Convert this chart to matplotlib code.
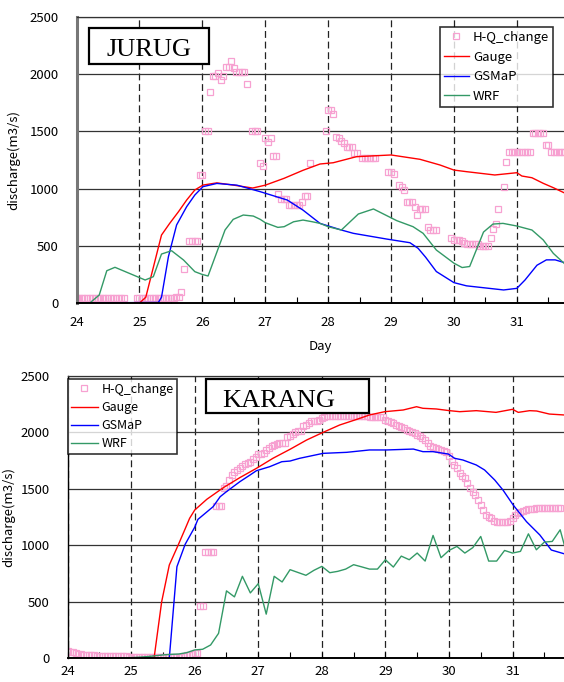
import numpy as np
import matplotlib
matplotlib.use('Agg')
import matplotlib.pyplot as plt
from matplotlib.lines import Line2D
from matplotlib.patches import Rectangle

# ---------------- JURUG (top) ----------------
# Gauge, GSMaP, WRF : (day, discharge)
jurug_gauge_day = [24.0, 25.0, 25.1, 25.35, 25.48, 25.62, 25.75, 25.88, 26.01, 26.23, 26.5, 26.8,
                   27.0, 27.3, 27.6, 27.87, 28.08, 28.45, 29.0, 29.46, 29.78, 30.0, 30.2, 30.65,
                   31.0, 31.08, 31.24, 31.42, 31.58, 31.75]
jurug_gauge_q = [0, 0, 50, 594, 696, 798, 900, 988, 1031, 1050, 1030, 1005,
                 1030, 1090, 1160, 1215, 1226, 1279, 1294, 1256, 1206, 1162, 1148, 1119,
                 1139, 1110, 1095, 1046, 1008, 964]

jurug_gsmap_day = [24.0, 25.3, 25.35, 25.46, 25.59, 25.75, 25.88, 26.01, 26.23, 26.55, 26.92, 27.35,
                   27.6, 27.87, 28.21, 28.4, 28.93, 29.3, 29.43, 29.55, 29.72, 30.0, 30.2, 30.79,
                   31.0, 31.13, 31.32, 31.47, 31.61, 31.75]
jurug_gsmap_q = [0, 5, 50, 405, 682, 842, 944, 1017, 1045, 1030, 973, 900,
                 812, 696, 638, 609, 559, 527, 478, 400, 275, 178, 150, 114,
                 128, 201, 330, 377, 377, 354]

jurug_wrf_day = [24.0, 24.21, 24.36, 24.48, 24.61, 24.74, 25.09, 25.22, 25.35, 25.51, 25.7, 25.88,
                 25.99, 26.09, 26.36, 26.49, 26.65, 26.81, 26.92, 27.0, 27.2, 27.3, 27.45, 27.6,
                 27.75, 27.87, 28.0, 28.21, 28.48, 28.72, 29.09, 29.35, 29.51, 29.72, 30.0, 30.13,
                 30.25, 30.47, 30.62, 30.78, 31.0, 31.24, 31.42, 31.58, 31.75]
jurug_wrf_q = [0, 0, 70, 282, 312, 282, 201, 230, 428, 457, 376, 274,
               251, 236, 638, 731, 769, 760, 731, 702, 661, 667, 710, 725,
               710, 696, 667, 638, 778, 822, 720, 667, 609, 463, 348, 310,
               319, 620, 690, 696, 673, 638, 551, 434, 348]

# H-Q_change markers: hour after 24 00:00, discharge
jurug_hq_hour = [0, 1, 2, 3, 4, 5, 6, 7, 8, 9, 10, 11, 12, 13, 14, 15, 16, 17, 18,
                 23, 24, 25, 26, 27, 28, 29, 30, 31, 32, 33, 34, 35, 36, 37,
                 38, 39, 40, 41, 43, 44, 45, 46, 47, 48, 49, 50, 51, 52, 53, 54, 55, 56, 57,
                 58, 59, 60, 61, 62, 63, 64, 65, 67, 68, 69, 70, 71, 72, 73, 74, 75, 76, 77,
                 78, 79, 80, 81, 82, 83, 84, 85, 86, 87, 88, 89, 95, 96, 97, 98, 99, 100,
                 101, 102, 103, 104, 105, 106, 107, 109, 110, 111, 112, 113, 114, 119, 120,
                 121, 123, 124, 125, 126, 127, 128, 129, 130, 131, 132, 133, 134, 135, 136,
                 137, 143, 144, 145, 146, 147, 148, 149, 150, 151, 152, 153, 154, 155, 156,
                 157, 158, 159, 160, 161, 163, 164, 165, 166, 167, 168, 169, 170, 171, 172,
                 173, 174, 175, 176, 177, 178, 179, 180, 181, 182, 183, 184, 185, 186]
jurug_hq_q = [45, 45, 45, 45, 45, 45, 45, 45, 45, 45, 45, 45, 45, 45, 45, 45, 45, 45, 45,
              45, 45, 45, 45, 45, 45, 45, 45, 45, 45, 45, 45, 45, 47, 48,
              50, 55, 100, 300, 540, 540, 540, 540, 1120, 1120, 1504, 1504, 1847, 1987, 1987, 2008, 1949, 1987, 2066,
              2066, 2118, 2057, 2019, 2019, 2019, 2019, 1914, 1504, 1504, 1504, 1221, 1200, 1440, 1410, 1440, 1288, 1288, 951,
              905, 905, 905, 858, 858, 858, 858, 858, 885, 934, 934, 1221, 1500, 1687, 1687, 1652, 1454, 1440,
              1420, 1395, 1361, 1361, 1361, 1314, 1314, 1265, 1265, 1265, 1265, 1265, 1265, 1148, 1148,
              1130, 1030, 1010, 990, 883, 883, 883, 842, 770, 819, 819, 819, 667, 638, 638,
              638, 565, 555, 550, 550, 545, 525, 520, 520, 520, 520, 520, 500, 500, 500,
              500, 568, 645, 689, 820, 1013, 1236, 1324, 1324, 1324, 1324, 1324, 1324, 1324, 1324,
              1324, 1488, 1488, 1488, 1488, 1488, 1383, 1383, 1318, 1318, 1318, 1318, 1318, 1318]

# ---------------- KARANG (bottom) ----------------
karang_gauge_day = [24.0, 25.36, 25.48, 25.6, 25.74, 25.85, 25.92, 26.0, 26.19, 26.45, 26.71, 26.97,
                    27.23, 27.5, 27.76, 28.02, 28.28, 28.55, 28.75, 28.99, 29.28, 29.49, 29.59, 29.8,
                    30.01, 30.17, 30.43, 30.74, 31.0, 31.09, 31.27, 31.38, 31.58, 31.81]
karang_gauge_q = [0, 0, 501, 826, 1003, 1147, 1240, 1313, 1408, 1511, 1600, 1682,
                  1771, 1851, 1933, 2001, 2066, 2116, 2155, 2184, 2199, 2228, 2214, 2208,
                  2193, 2184, 2193, 2178, 2205, 2178, 2193, 2190, 2163, 2155]

karang_gsmap_day = [24.0, 25.6, 25.72, 25.85, 26.0, 26.05, 26.29, 26.4, 26.5, 26.71, 26.87, 26.97,
                    27.18, 27.37, 27.5, 27.65, 28.02, 28.39, 28.75, 29.02, 29.44, 29.59, 29.75,
                    29.99, 30.09, 30.22, 30.43, 30.56, 30.72, 30.85, 31.01, 31.22, 31.43, 31.61, 31.81]
karang_gsmap_q = [0, 0, 811, 1010, 1161, 1230, 1343, 1431, 1476, 1564, 1623, 1661,
                  1697, 1741, 1747, 1771, 1815, 1824, 1845, 1845, 1853, 1830, 1830,
                  1809, 1771, 1756, 1712, 1668, 1579, 1490, 1358, 1210, 1092, 959, 926]

# WRF every 3 hours from 24 00:00
karang_wrf_q = [0, 0, 0, 0, 0, 2, 3, 5, 6, 10, 15, 22, 30, 35, 38, 50,
                74, 80, 118, 221, 597, 544, 726, 579, 661, 391, 726, 676, 785, 760, 735, 779,
                814, 758, 770, 790, 829, 810, 790, 790, 873, 808, 905, 873, 932, 861, 1088, 891,
                955, 991, 932, 980, 1079, 861, 861, 955, 932, 947, 1102, 961, 1029, 1035, 1138, 880]

# H-Q_change hourly from 24 00:00
karang_hq_q = [62, 58, 55, 50, 40, 35,
               28, 27, 26, 25, 25, 24, 24, 23, 23, 22, 22, 21, 21, 20, 20, 19, 18,
               15, 15, 15, 15, 15, 15, 15, 15, 15, 15, 15, 15,
               10, 10, 10, 10, 10, 10, 10,
               12, 15, 20, 25, 30, 40, 45, 45,
               466, 466, 944, 944, 944, 944, 1349, 1349, 1349,
               1505, 1526, 1575, 1623, 1650, 1668, 1683, 1706, 1720, 1727, 1742, 1765, 1785, 1806,
               1812, 1816, 1845, 1862, 1880, 1888, 1895,
               1904, 1904, 1904, 1960, 1969, 1990, 2005, 2013, 2013, 2060, 2066, 2080, 2100, 2104,
               2104, 2110, 2125, 2140,
               2146, 2146, 2146, 2146, 2146, 2146, 2146, 2146, 2146, 2146, 2146, 2146, 2146, 2146,
               2146, 2146,
               2140, 2140, 2140, 2140, 2140, 2140,
               2110, 2100, 2095, 2081, 2070, 2060, 2051, 2037, 2025, 2015, 2007, 1992, 1980, 1968,
               1950, 1933, 1904, 1880, 1868, 1860, 1850, 1845, 1835, 1825, 1795, 1750, 1715, 1683,
               1638, 1615, 1594, 1550, 1510, 1470, 1446, 1402, 1358, 1313, 1269, 1250, 1240, 1215,
               1210, 1210, 1210, 1210, 1210,
               1220, 1240, 1269, 1284, 1295, 1304, 1310, 1319, 1322, 1325, 1327,
               1328, 1328, 1328, 1328, 1328, 1328, 1328, 1328, 1328]

labels = ['H-Q_change', 'Gauge', 'GSMaP', 'WRF']
day_ticks = [24, 25, 26, 27, 28, 29, 30, 31]
q_ticks = [0, 500, 1000, 1500, 2000, 2500]

PINK = '#f7a1d1'
RED = '#ff0000'
BLUE = '#0000ff'
GREEN = '#339966'

plt.rcParams['font.family'] = ['Noto Sans CJK JP', 'DejaVu Sans']
fig = plt.figure(figsize=(5.64, 6.82), dpi=100)

W, H = 564.0, 682.0


def axes_px(left, top, bottom):
    return fig.add_axes([left / W, 1 - bottom / H, 1 - left / W, (bottom - top) / H])


def style_axes(ax, xmax, left_spine_color, left_spine_lw, xpad):
    ax.set_xlim(24, xmax)
    ax.set_ylim(0, 2500)
    ax.set_xticks(day_ticks)
    ax.set_xticks(np.arange(24.5, 32, 1.0), minor=True)
    ax.set_yticks(q_ticks)
    ax.tick_params(axis='x', which='both', direction='in', length=4, width=0.8,
                   labelsize=9.5, pad=xpad)
    ax.tick_params(axis='y', which='major', length=0, labelsize=9.5, pad=13)
    ax.xaxis.grid(True, which='major', color='#222222', lw=0.9, ls=(0, (5.5, 3)))
    ax.yaxis.grid(True, which='major', color='#333333', lw=0.9, ls='-')
    ax.set_axisbelow(True)
    ax.spines['right'].set_visible(False)
    ax.spines['top'].set_color('#333333')
    ax.spines['top'].set_linewidth(0.9)
    ax.spines['bottom'].set_linewidth(1.4)
    ax.spines['left'].set_color(left_spine_color)
    ax.spines['left'].set_linewidth(left_spine_lw)


legend_handles = [
    Line2D([], [], ls='none', marker='s', ms=4, mfc='none', mec=PINK, mew=0.9),
    Line2D([], [], color=RED, lw=1),
    Line2D([], [], color=BLUE, lw=1),
    Line2D([], [], color=GREEN, lw=1),
]

# ---- top panel ----
ax1 = axes_px(76.6, 17, 303)
style_axes(ax1, 31.75, '#777777', 2.2, 9)
jurug_hq_day = [24 + h / 24.0 for h in jurug_hq_hour]
ax1.plot(jurug_hq_day, jurug_hq_q, ls='none', marker='s', ms=4, mfc='none', mec=PINK, mew=0.9)
ax1.plot(jurug_gauge_day, jurug_gauge_q, color=RED, lw=1)
ax1.plot(jurug_gsmap_day, jurug_gsmap_q, color=BLUE, lw=1)
ax1.plot(jurug_wrf_day, jurug_wrf_q, color=GREEN, lw=1)
ax1.set_xlabel('Day', fontsize=9.5, labelpad=6)
ax1.xaxis.set_label_coords(0.5, -0.13)
ax1.set_ylabel('discharge(m3/s)', fontsize=9.5)
ax1.yaxis.set_label_coords(-0.116, 0.5)
leg1 = ax1.legend(legend_handles, labels, loc='upper right',
                  bbox_to_anchor=(553 / W, 1 - 27 / H), bbox_transform=fig.transFigure,
                  fontsize=9.5, frameon=True, fancybox=False, edgecolor='black',
                  borderpad=0.3, labelspacing=0.5, handlelength=1.9, handletextpad=0.3,
                  borderaxespad=0)
leg1.get_frame().set_linewidth(1.2)

# ---- bottom panel ----
ax2 = axes_px(67.6, 376, 658.3)
style_axes(ax2, 31.81, 'black', 1.0, 5)
karang_hq_day = [24 + h / 24.0 for h in range(len(karang_hq_q))]
karang_wrf_day = [24 + 3 * i / 24.0 for i in range(len(karang_wrf_q))]
ax2.plot(karang_hq_day, karang_hq_q, ls='none', marker='s', ms=4, mfc='none', mec=PINK, mew=0.9)
ax2.plot(karang_gauge_day, karang_gauge_q, color=RED, lw=1)
ax2.plot(karang_gsmap_day, karang_gsmap_q, color=BLUE, lw=1)
ax2.plot(karang_wrf_day, karang_wrf_q, color=GREEN, lw=1)
ax2.set_ylabel('discharge(m3/s)', fontsize=9.5)
ax2.yaxis.set_label_coords(-0.106, 0.5)
leg2 = ax2.legend(legend_handles, labels, loc='upper left',
                  bbox_to_anchor=(67.6 / W, 1 - 379 / H), bbox_transform=fig.transFigure,
                  fontsize=9, frameon=True, fancybox=False, edgecolor='black',
                  borderpad=0.3, labelspacing=0.42, handlelength=2.1, handletextpad=0.3,
                  borderaxespad=0)
leg2.get_frame().set_linewidth(1.2)

# ---- station name boxes ----
fig.add_artist(Rectangle((89 / W, 1 - 64 / H), 120 / W, 36 / H, transform=fig.transFigure,
                         facecolor='white', edgecolor='black', lw=1.6, zorder=5))
fig.text(149 / W, 1 - 56 / H, 'JURUG', family='Liberation Serif', fontsize=19,
         ha='center', va='baseline', zorder=6)
fig.add_artist(Rectangle((206 / W, 1 - 413 / H), 163 / W, 34 / H, transform=fig.transFigure,
                         facecolor='white', edgecolor='black', lw=1.6, zorder=5))
fig.text(279 / W, 1 - 407 / H, 'KARANG', family='Liberation Serif', fontsize=19,
         ha='center', va='baseline', zorder=6)

fig.savefig('out.png', dpi=100)
